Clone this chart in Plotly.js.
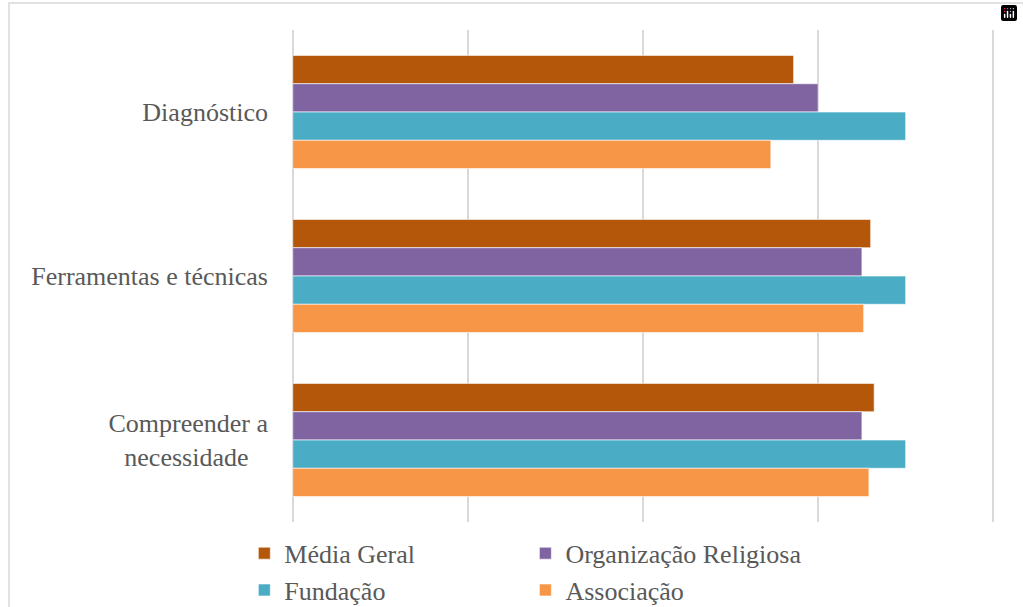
<!DOCTYPE html>
<html>
<head>
<meta charset="utf-8">
<script src="https://cdn.plot.ly/plotly-3.0.1.min.js"></script>
</head>
<body style="margin:0">
<div id="plot1"></div>
<script>
// second line padded with no-break spaces so the two lines look centred
const categories = ['Diagnóstico', 'Ferramentas e técnicas', 'Compreender a<br>necessidade\u00a0\u00a0\u00a0'];

const mediaGeral = [3.86, 4.30, 4.32];
const orgReligiosa = [4.00, 4.25, 4.25];
const fundacao = [4.50, 4.50, 4.50];
const associacao = [3.73, 4.26, 4.29];

const seriesNames = ['Média Geral', 'Organização Religiosa', 'Fundação', 'Associação'];
const seriesColors = ['#B5570A', '#8064A2', '#4BACC6', '#F79646'];
const seriesValues = [mediaGeral, orgReligiosa, fundacao, associacao];

const textFont = { family: 'Liberation Serif', size: 26, color: '#595959' };

// bars start at the left edge (1), so x holds the length from there
const data = seriesValues.map((vals, i) => ({
  type: 'bar',
  orientation: 'h',
  name: seriesNames[i],
  y: categories,
  x: vals.map(v => v - 1),
  base: 1,
  marker: { color: seriesColors[i], line: { color: 'rgba(255,255,255,0.6)', width: 1 } }
}));

const layout = {
  width: 1023,
  height: 607,
  margin: { l: 291, r: 28, t: 30, b: 85 },
  font: textFont,
  barmode: 'group',
  bargap: 0.31,
  bargroupgap: 0,
  xaxis: {
    range: [0.99, 5.01],
    dtick: 1,
    tick0: 1,
    showticklabels: false,
    gridcolor: '#D9D9D9',
    gridwidth: 1.5,
    zeroline: false
  },
  yaxis: {
    autorange: 'reversed',
    ticklabelstandoff: 22,
    tickfont: textFont
  },
  legend: {
    orientation: 'h',
    traceorder: 'normal',
    xref: 'container',
    yref: 'container',
    x: 0.514,
    xanchor: 'center',
    y: 0.058,
    yanchor: 'middle',
    itemgap: 15,
    font: textFont
  },
  modebar: { bgcolor: 'rgba(0,0,0,0)', color: 'rgba(0,0,0,0)', activecolor: 'rgba(0,0,0,0)' },
  shapes: [{
    type: 'rect',
    xref: 'paper', yref: 'paper',
    x0: -0.4006, x1: 1.06, y0: -0.2, y1: 1.0549,
    line: { color: '#D9D9D9', width: 1.5 },
    layer: 'below'
  }],
  showlegend: true
};

Plotly.newPlot('plot1', data, layout);
</script>
</body>
</html>
